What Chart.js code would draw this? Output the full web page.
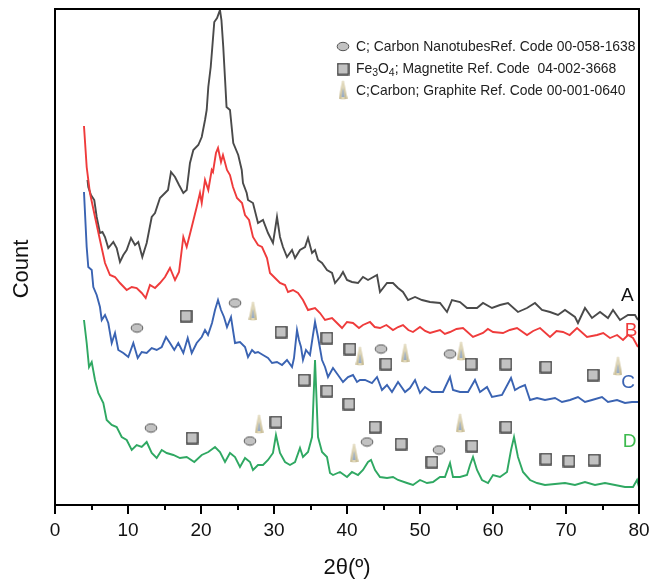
<!DOCTYPE html>
<html>
<head>
<meta charset="utf-8">
<script src="https://cdn.jsdelivr.net/npm/chart.js@4/dist/chart.umd.min.js"></script>
<style>
  html, body { margin: 0; padding: 0; background: #fff; }
  #xrd { display: block; }
</style>
</head>
<body>
<canvas id="xrd" width="651" height="585"></canvas>
<script>
// 2theta (deg) / count pairs, one list per sample
const curveA = [[4.45,325],[4.56,318],[4.93,310],[5.38,305],[5.71,288],[6.16,272],[6.5,273],[6.85,268],[7.30,257],[7.99,263],
  [8.45,257],[8.90,243],[9.36,250],[9.82,255],[10.41,267],[10.96,260],[11.41,263],[11.96,248],[12.56,262],[13.25,288],
  [13.70,292],[14.38,307],[15.07,312],[15.48,315],[15.89,333],[16.44,328],[16.99,320],[17.58,312],[18.04,315],[18.49,342],
  [18.95,355],[19.63,360],[20.10,368],[20.55,385],[20.78,395],[21.0,418],[21.33,438],[21.55,458],[21.82,483],[22.2,487],
  [22.6,495],[22.8,485],[23.05,458],[23.3,425],[23.5,398],[23.97,395],[24.42,362],[25.1,350],[25.58,335],[25.75,322],
  [26.26,312],[26.44,305],[27.12,302],[27.81,282],[28.49,285],[29.18,272],[29.86,262],[30.14,275],[30.41,288],[30.82,268],
  [31.23,258],[31.78,248],[32.47,255],[32.88,247],[33.56,255],[34.25,258],[34.66,267],[35.21,252],[35.62,255],[36.03,245],
  [36.58,242],[37.26,235],[37.95,232],[38.36,222],[39.04,228],[39.45,233],[40.0,225],[40.68,223],[41.51,222],[42.19,228],
  [42.88,225],[44.11,230],[44.52,213],[45.48,222],[46.30,222],[46.99,217],[47.67,213],[48.36,205],[49.32,208],[50.27,205],
  [51.37,203],[52.74,202],[53.70,193],[54.38,205],[55.48,203],[56.44,197],[57.81,197],[58.63,202],[59.86,197],[60.96,200],
  [62.05,202],[63.42,193],[64.66,197],[65.75,202],[66.71,195],[67.81,193],[68.90,190],[69.86,195],[71.23,188],[71.64,182],
  [72.60,197],[73.56,187],[74.66,193],[75.75,187],[76.44,195],[77.40,185],[78.49,190],[79.45,190],[79.86,185]];

const curveB = [[3.97,379],[4.34,338],[4.79,312],[5.48,288],[6.16,265],[6.85,242],[7.53,230],[8.22,228],[8.90,222],[9.82,215],
  [10.51,218],[11.19,217],[11.88,212],[12.42,207],[13.01,220],[13.70,217],[14.38,222],[15.07,228],[15.75,237],[16.44,225],
  [16.99,233],[17.58,268],[18.04,258],[18.73,278],[19.41,298],[19.86,312],[20.10,302],[20.55,325],[21.0,315],[21.47,335],
  [21.64,333],[22.05,352],[22.33,357],[22.74,343],[23.01,350],[23.56,335],[23.97,330],[24.38,318],[24.93,307],[25.62,302],
  [26.03,290],[26.58,285],[27.12,268],[27.81,260],[28.36,258],[29.04,247],[29.45,232],[30.14,227],[30.82,222],[31.51,220],
  [31.92,213],[32.60,215],[33.29,212],[33.97,205],[34.66,195],[35.62,197],[36.30,192],[36.99,185],[37.95,187],[38.63,182],
  [39.32,177],[40.0,183],[40.82,182],[41.64,177],[42.19,180],[43.15,183],[43.8,178],[44.52,177],[45.4,180],[46.30,175],
  [47.0,178],[47.67,180],[48.4,175],[49.04,173],[50.0,178],[50.7,174],[51.37,172],[52.74,175],[53.4,171],[54.11,173],
  [55.0,176],[55.89,177],[57.26,168],[58.63,172],[59.3,176],[60.0,173],[61.37,172],[62.3,175],[63.29,177],[64.66,170],
  [65.5,174],[66.44,177],[67.81,168],[68.7,174],[69.59,173],[70.5,170],[71.51,177],[72.88,168],[74.25,170],[75.1,172],
  [76.03,167],[77.0,170],[77.81,165],[78.5,170],[79.18,167],[79.86,158]];

const curveC = [[3.97,313],[4.34,258],[4.56,238],[5.03,235],[5.25,218],[5.71,210],[6.16,198],[6.40,185],[6.85,190],[7.30,182],
  [7.77,162],[8.22,172],[8.67,155],[9.36,152],[10.04,148],[10.73,162],[11.33,147],[11.88,153],[12.56,152],[13.25,157],
  [13.93,155],[14.62,158],[15.21,168],[15.75,162],[16.34,155],[16.89,162],[17.58,152],[18.18,167],[18.73,152],[19.41,162],
  [20.10,168],[20.55,175],[20.96,170],[21.51,182],[21.92,195],[22.33,205],[22.74,195],[23.15,188],[23.56,178],[24.11,188],
  [24.38,175],[24.66,162],[25.34,163],[26.03,158],[26.44,148],[26.99,155],[27.40,152],[27.81,153],[28.49,150],[29.18,147],
  [29.73,142],[30.41,143],[31.10,140],[31.78,145],[32.47,138],[32.74,147],[33.15,175],[33.42,165],[33.70,158],[33.97,145],
  [34.38,155],[34.93,150],[35.34,170],[35.62,183],[36.03,168],[36.58,145],[36.99,138],[37.40,128],[38.08,137],[38.77,130],
  [39.45,123],[40.14,128],[40.82,130],[41.37,123],[41.78,125],[42.47,125],[43.42,122],[44.11,128],[44.79,115],[45.48,120],
  [46.16,113],[46.99,123],[47.95,113],[48.63,117],[49.32,125],[50.0,112],[50.68,118],[51.64,113],[53.15,113],[54.11,128],
  [54.52,115],[55.48,113],[56.58,113],[57.53,125],[58.22,113],[59.18,118],[59.86,108],[61.23,110],[62.47,127],[63.01,115],
  [63.70,118],[64.38,120],[65.07,105],[66.03,107],[67.12,105],[68.49,107],[69.45,103],[70.55,105],[71.64,108],[72.60,103],
  [73.56,105],[74.93,108],[75.75,103],[76.99,105],[78.08,102],[79.04,103],[80.0,103]];

const curveD = [[3.97,185],[4.34,162],[4.66,138],[5.03,143],[5.48,125],[5.93,112],[6.62,102],[7.08,85],[7.77,80],[8.45,78],
  [9.14,68],[9.82,65],[10.51,55],[11.19,60],[11.88,58],[12.56,63],[13.25,52],[13.93,47],[14.62,55],[15.30,52],
  [16.21,50],[17.12,47],[18.04,48],[19.08,43],[20.10,50],[21.0,53],[21.92,58],[22.60,53],[23.29,43],[23.97,52],
  [24.66,48],[25.34,38],[26.03,47],[26.71,43],[27.12,35],[27.81,40],[28.49,40],[29.18,45],[29.86,52],[30.27,70],
  [30.82,52],[31.51,43],[32.19,40],[32.88,43],[33.56,57],[33.97,48],[34.66,53],[35.21,68],[35.62,145],[36.03,68],
  [36.58,53],[37.26,48],[37.67,32],[38.08,30],[39.04,33],[40.0,28],[40.68,33],[41.51,30],[42.19,35],[42.88,43],
  [43.29,45],[43.84,35],[44.52,28],[45.48,27],[46.30,28],[46.99,25],[48.22,22],[49.04,20],[50.0,25],[50.96,22],
  [51.78,23],[52.74,28],[53.42,28],[54.11,42],[54.52,28],[55.48,28],[56.44,30],[56.85,40],[57.26,48],[57.81,35],
  [58.49,25],[59.32,22],[60.0,30],[60.96,28],[61.92,33],[62.47,55],[62.88,68],[63.42,48],[64.11,33],[65.07,25],
  [66.03,22],[67.12,20],[68.49,21],[69.86,22],[71.23,20],[72.60,23],[73.97,20],[75.34,22],[76.71,20],[78.08,18],
  [79.18,18],[79.73,25],[80.0,18]];

// reference peak markers (2theta, height on the plot)
const nanotubeMarks = [[11.23,177],[24.66,202],[44.66,156],[54.11,151],[13.15,77],[26.71,64],[42.74,63],[52.60,55]];
const magnetiteMarks = [[17.95,189],[30.96,173],[37.26,167],[40.41,156],[45.34,141],[56.99,141],[61.78,141],[67.26,138],
  [73.70,130],[34.11,125],[37.26,114],[40.27,101],[18.77,67],[30.27,83],[43.84,78],[47.40,61],[51.64,43],[57.12,59],
  [61.78,78],[67.26,46],[70.41,44],[73.84,45]];
const graphiteMarks = [[27.12,194],[41.78,149],[47.95,152],[55.62,154],[77.12,139],[27.95,81],[40.96,52],[55.48,82]];

const curveLabels = ['A', 'B', 'C', 'D'];
const labelSpots = [[78.4,209],[78.9,174],[78.5,122],[78.7,63]];
const xTicks = [0, 10, 20, 30, 40, 50, 60, 70, 80];

const legendRows = [
  'C; Carbon NanotubesRef. Code 00-058-1638',
  'Fe3O4; Magnetite Ref. Code  04-002-3668',
  'C;Carbon; Graphite Ref. Code 00-001-0640'
];

const lineColors = ['#4a4a4a', '#ef3b3b', '#3a63b2', '#2fa862'];
const labelColors = ['#111111', '#ef3b3b', '#3a63b2', '#3dba4e'];

function toPts(arr) { return arr.map(p => ({ x: p[0], y: p[1] })); }

// little marker images
function makeOval() {
  const c = document.createElement('canvas'); c.width = 14; c.height = 11;
  const g = c.getContext('2d');
  g.beginPath(); g.ellipse(7, 5.5, 5.8, 4.2, 0, 0, Math.PI * 2);
  g.fillStyle = '#c2c2c2'; g.fill();
  g.lineWidth = 1; g.strokeStyle = '#555'; g.stroke();
  return c;
}
function makeSquare() {
  const c = document.createElement('canvas'); c.width = 13; c.height = 13;
  const g = c.getContext('2d');
  g.fillStyle = '#c2c2c2'; g.fillRect(1, 1, 11, 11);
  g.lineWidth = 1.4; g.strokeStyle = '#333'; g.strokeRect(1, 1, 11, 11);
  return c;
}
function makeCone() {
  const w = 9, h = 20;
  const c = document.createElement('canvas'); c.width = w; c.height = h;
  const g = c.getContext('2d');
  const grad = g.createLinearGradient(0, 0, w, 0);
  grad.addColorStop(0, '#bcae80');
  grad.addColorStop(0.5, '#e4dcc0');
  grad.addColorStop(1, '#b5a777');
  g.beginPath();
  g.moveTo(w / 2 - 1, 1.5);
  g.quadraticCurveTo(w / 2, -0.5, w / 2 + 1, 1.5);
  g.lineTo(w - 0.3, h - 1.2);
  g.quadraticCurveTo(w / 2, h + 0.4, 0.3, h - 1.2);
  g.closePath();
  g.fillStyle = grad; g.fill();
  g.beginPath();
  g.moveTo(w / 2, h * 0.38); g.lineTo(w / 2 + 1.3, h - 3); g.lineTo(w / 2 - 1.3, h - 3); g.closePath();
  g.fillStyle = '#8ea6c8'; g.fill();
  return c;
}
const ovalImg = makeOval(), squareImg = makeSquare(), coneImg = makeCone();

const FONT = "'Liberation Sans', Arial, sans-serif";

const extras = {
  id: 'extras',
  afterDraw(chart) {
    const ctx = chart.ctx, a = chart.chartArea;
    const xs = chart.scales.x, ys = chart.scales.y;
    ctx.save();
    // frame top / right
    ctx.strokeStyle = '#000'; ctx.lineWidth = 2;
    ctx.beginPath();
    ctx.moveTo(a.left - 1, a.top); ctx.lineTo(a.right, a.top); ctx.lineTo(a.right, a.bottom);
    ctx.stroke();
    // minor ticks
    for (let v = 5; v < 80; v += 10) {
      const px = Math.round(xs.getPixelForValue(v));
      ctx.beginPath(); ctx.moveTo(px, a.bottom); ctx.lineTo(px, a.bottom + 5); ctx.stroke();
    }
    // curve letters
    ctx.font = '19px ' + FONT; ctx.textAlign = 'center'; ctx.textBaseline = 'middle';
    curveLabels.forEach((t, i) => {
      ctx.fillStyle = labelColors[i];
      ctx.fillText(t, xs.getPixelForValue(labelSpots[i][0]), ys.getPixelForValue(labelSpots[i][1]));
    });
    // y title
    ctx.save();
    ctx.translate(22, 269); ctx.rotate(-Math.PI / 2);
    ctx.font = '22px ' + FONT; ctx.fillStyle = '#111';
    ctx.fillText('Count', 0, 0);
    ctx.restore();
    // legend
    ctx.textAlign = 'left'; ctx.textBaseline = 'middle'; ctx.fillStyle = '#222';
    const lx = 356, rows = [47, 69, 91], fs = 13.9;
    ctx.drawImage(ovalImg, 343 - 7, rows[0] - 6);
    ctx.drawImage(squareImg, 343 - 6.5, rows[1] - 6.5);
    ctx.drawImage(coneImg, 343 - 4.5, rows[2] - 11);
    ctx.font = fs + 'px ' + FONT;
    ctx.fillText(legendRows[0], lx, rows[0]);
    // Fe3O4 with subscripts
    let x = lx;
    const parts = [['Fe', 0], ['3', 1], ['O', 0], ['4', 1], ['; Magnetite Ref. Code  04-002-3668', 0]];
    parts.forEach(p => {
      ctx.font = (p[1] ? '10.5px ' : fs + 'px ') + FONT;
      ctx.fillText(p[0], x, rows[1] + (p[1] ? 4 : 0));
      x += ctx.measureText(p[0]).width;
    });
    ctx.font = fs + 'px ' + FONT;
    ctx.fillText(legendRows[2], lx, rows[2]);
    ctx.restore();
  }
};

function lineSet(data, color, order) {
  return { type: 'line', data: toPts(data), borderColor: color, borderWidth: 1.9, pointRadius: 0, tension: 0, order: order };
}
function markSet(data, img, order) {
  return { type: 'scatter', data: toPts(data), pointStyle: img, pointRadius: 6, showLine: false, order: order };
}

new Chart(document.getElementById('xrd'), {
  type: 'scatter',
  data: {
    datasets: [
      lineSet(curveA, lineColors[0], 5),
      lineSet(curveB, lineColors[1], 4),
      lineSet(curveC, lineColors[2], 3),
      lineSet(curveD, lineColors[3], 2),
      markSet(nanotubeMarks, ovalImg, 0),
      markSet(magnetiteMarks, squareImg, 0),
      markSet(graphiteMarks, coneImg, 0)
    ]
  },
  options: {
    responsive: false,
    animation: false,
    events: [],
    layout: { padding: { top: 9, right: 12, left: 0, bottom: 0 } },
    plugins: { legend: { display: false }, tooltip: { enabled: false } },
    scales: {
      x: {
        type: 'linear', position: 'bottom', min: 0, max: 80,
        afterBuildTicks: s => { s.ticks = xTicks.map(v => ({ value: v })); },
        afterFit: s => { s.height = 80; s.paddingLeft = 0; s.paddingRight = 0; },
        ticks: { font: { size: 19, family: FONT }, color: '#111', padding: 5, maxRotation: 0 },
        grid: { drawOnChartArea: false, tickLength: 9, color: '#000', lineWidth: 2 },
        border: { color: '#000', width: 2 },
        title: { display: true, text: '2θ(º)', color: '#111', font: { size: 22, family: FONT }, padding: { top: 0, bottom: 4 } }
      },
      y: {
        type: 'linear', min: 0, max: 496,
        afterFit: s => { s.width = 55; },
        ticks: { display: false },
        grid: { drawOnChartArea: false, drawTicks: false },
        border: { color: '#000', width: 2 }
      }
    }
  },
  plugins: [extras]
});
</script>
</body>
</html>
